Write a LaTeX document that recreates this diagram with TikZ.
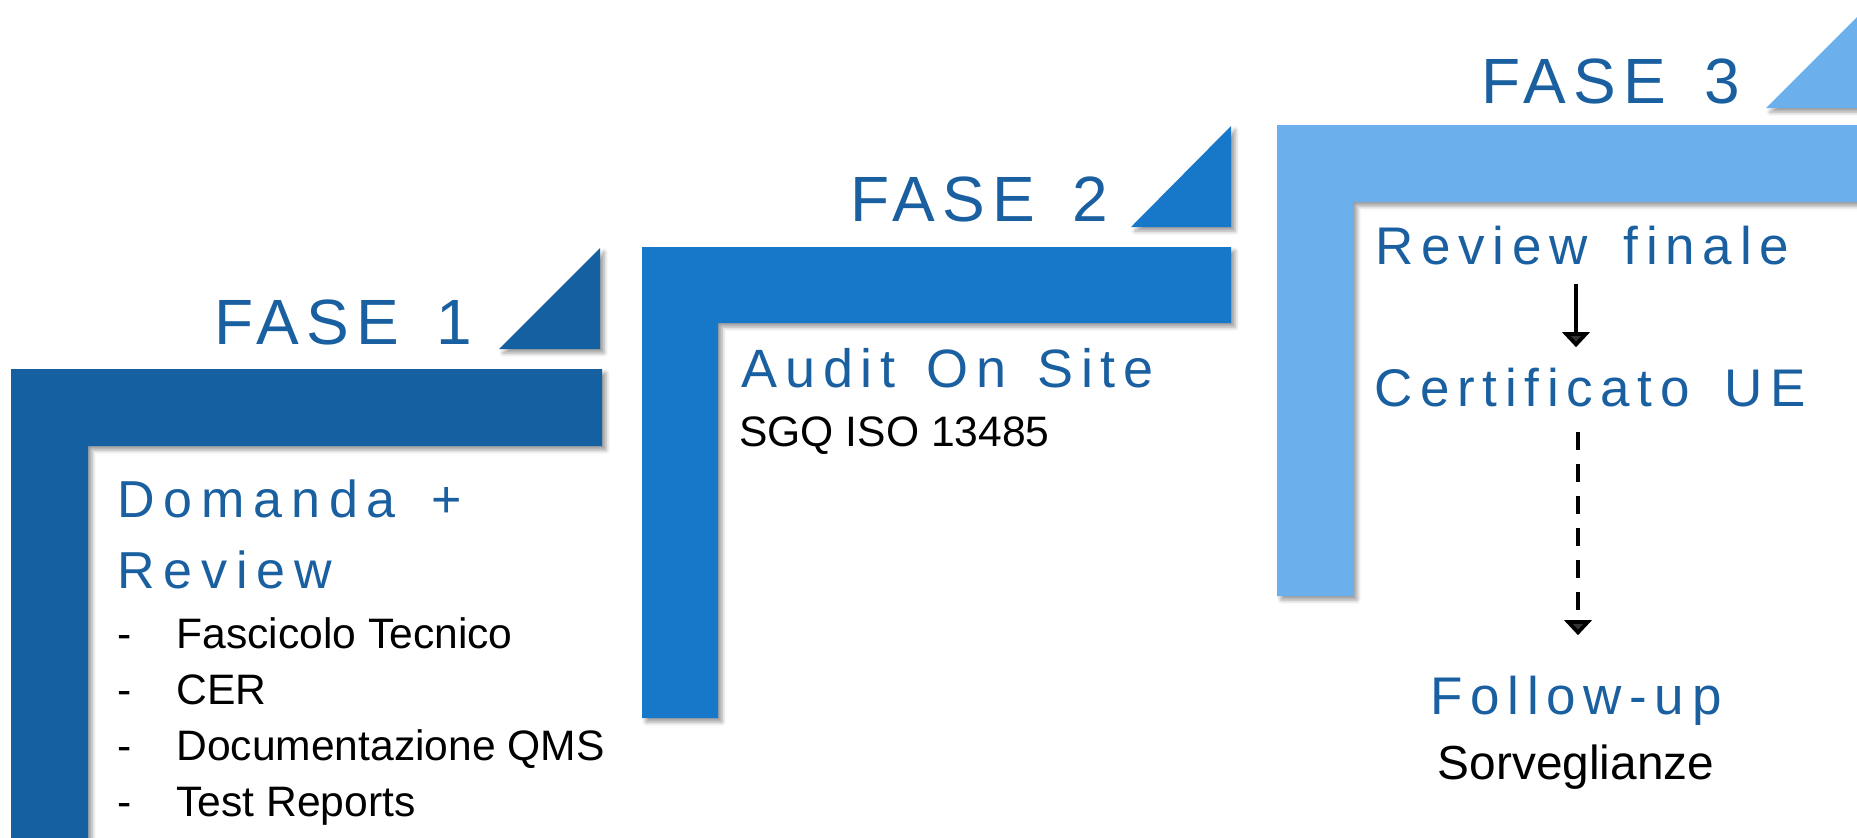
\documentclass[tikz,border=0pt]{standalone}
\usepackage{fontspec}
\setmainfont{Liberation Sans}
\newfontfamily\headfont[LetterSpace=11]{Liberation Sans}
\newfontfamily\subfont[LetterSpace=14.5]{Liberation Sans}
\newfontfamily\domfont[LetterSpace=17]{Liberation Sans}
\usetikzlibrary{shadows.blur,arrows.meta}
\definecolor{cA}{HTML}{1560A0}
\definecolor{cB}{HTML}{1777C8}
\definecolor{cC}{HTML}{6BB0EC}
\definecolor{tblue}{HTML}{1A60A0}
\begin{document}
\begin{tikzpicture}[x=0.5pt,y=-0.5pt,
 shad/.style={blur shadow={shadow xshift=2pt,shadow yshift=-2pt,shadow blur radius=2pt,shadow opacity=40}},
 fase/.style={anchor=base west,inner sep=0,text=tblue,font=\headfont\fontsize{32}{38}\selectfont},
 sub/.style={anchor=base west,inner sep=0,text=tblue,font=\subfont\fontsize{26.5}{32}\selectfont},
 body/.style={anchor=base west,inner sep=0,text=black,font=\fontsize{21.3}{25}\selectfont},
 arr/.style={line width=2.2pt,-{Triangle[width=13.5pt,length=7.5pt]}}]
\useasboundingbox (0,0) rectangle (1857,837);
\clip (0,0) rectangle (1857,837);
% FASE 1 shapes
\fill[cA,shad] (11,369) -- (602,369) -- (602,446) -- (88,446) -- (88,900) -- (11,900) -- cycle;
\fill[cA,shad] (499,349) -- (600,349) -- (600,248) -- cycle;
% FASE 2 shapes
\fill[cB,shad] (642,247) -- (1231,247) -- (1231,323) -- (718,323) -- (718,718) -- (642,718) -- cycle;
\fill[cB,shad] (1131,227) -- (1231,227) -- (1231,126) -- cycle;
% FASE 3 shapes
\fill[cC,shad] (1277,125) -- (1900,125) -- (1900,202) -- (1353,202) -- (1353,596) -- (1277,596) -- cycle;
\fill[cC,shad] (1766,108) -- (1900,108) -- (1900,-26) -- cycle;
% headings
\node[fase] (f1) at (214,344) {FASE\hspace{6.5pt} 1};
\node[fase] (f2) at (850,221) {FASE\hspace{6.5pt} 2};
\node[fase] (f3) at (1481,103) {FASE\hspace{7pt} 3};
% fase 1 text
\node[sub,font=\domfont\fontsize{26}{32}\selectfont] (dom) at (117,517) {Domanda\hspace{6pt} +};
\node[sub,font=\domfont\fontsize{26}{32}\selectfont] (rvw) at (117,588) {Review};
\node[body] (i1) at (117,648) {\makebox[29.5pt][l]{-}Fascicolo Tecnico};
\node[body] (i2) at (117,704) {\makebox[29.5pt][l]{-}CER};
\node[body] (i3) at (117,760) {\makebox[29.5pt][l]{-}Documentazione QMS};
\node[body] (i4) at (117,816) {\makebox[29.5pt][l]{-}Test Reports};
% fase 2 text
\node[sub,font=\subfont\fontsize{27}{32}\selectfont] (aud) at (741,387) {Audit\hspace{4pt} On\hspace{4pt} Site};
\node[body] (sgq) at (739,446) {SGQ ISO 13485};
% fase 3 text
\node[sub] (rev) at (1375,264) {Review\hspace{7pt} finale};
\node[sub] (cert) at (1374,406) {Certificato\hspace{6pt} UE};
\node[sub,anchor=base] (fol) at (1576,714) {Follow-up};
\node[body,anchor=base,font=\fontsize{23.9}{28}\selectfont] (sorv) at (1576,779) {Sorveglianze};
% arrows
\coordinate (ax) at (1576,0);
\coordinate (ax2) at (1578,0);
\draw[arr,shorten <=9.5pt,shorten >=10pt] (rev.south -| ax) -- (cert.north -| ax);
\draw[arr,dash pattern=on 9pt off 7pt,shorten <=12.5pt,shorten >=20pt] (cert.south -| ax2) -- (fol.north -| ax2);
\end{tikzpicture}
\end{document}
